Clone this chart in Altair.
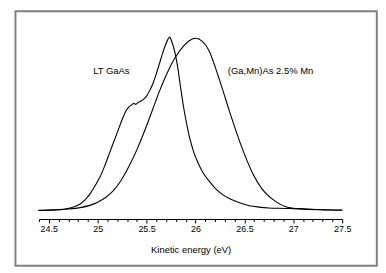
import altair as alt
import pandas as pd

# LT GaAs spectrum (kinetic energy eV, normalised intensity)
lt_energy = [24.40, 24.50, 24.60, 24.68, 24.75, 24.82, 24.87, 24.92, 24.97, 25.02,
             25.07, 25.12, 25.17, 25.21, 25.25, 25.29, 25.32, 25.35, 25.37, 25.39,
             25.41, 25.44, 25.47, 25.50, 25.53, 25.57, 25.60, 25.63, 25.66, 25.69,
             25.72, 25.735, 25.76, 25.79, 25.82, 25.85, 25.88, 25.91, 25.94, 25.98,
             26.03, 26.08, 26.14, 26.20, 26.27, 26.35, 26.45, 26.55, 26.65, 26.75,
             26.85, 26.95, 27.05, 27.15, 27.25, 27.35, 27.50]
lt_intensity = [0.000, 0.002, 0.005, 0.010, 0.020, 0.038, 0.062, 0.095, 0.140, 0.190,
                0.255, 0.330, 0.405, 0.465, 0.525, 0.575, 0.598, 0.610, 0.618, 0.612,
                0.622, 0.630, 0.642, 0.660, 0.690, 0.740, 0.790, 0.845, 0.900, 0.950,
                0.990, 1.000, 0.970, 0.910, 0.820, 0.700, 0.590, 0.500, 0.420, 0.340,
                0.270, 0.215, 0.170, 0.130, 0.095, 0.068, 0.045, 0.028, 0.020, 0.015,
                0.013, 0.012, 0.010, 0.007, 0.005, 0.003, 0.002]

# (Ga,Mn)As 2.5% Mn spectrum
mn_energy = [24.39, 24.55, 24.70, 24.82, 24.92, 25.00, 25.08, 25.16, 25.24, 25.32,
             25.40, 25.48, 25.56, 25.64, 25.72, 25.80, 25.88, 25.94, 26.00, 26.07,
             26.14, 26.20, 26.27, 26.36, 26.47, 26.58, 26.68, 26.80, 26.95, 27.10,
             27.25, 27.50]
mn_intensity = [0.002, 0.004, 0.009, 0.017, 0.030, 0.048, 0.075, 0.115, 0.175, 0.255,
                0.350, 0.460, 0.580, 0.700, 0.805, 0.890, 0.950, 0.980, 0.993, 0.975,
                0.920, 0.830, 0.710, 0.550, 0.370, 0.220, 0.125, 0.060, 0.018, 0.010,
                0.006, 0.003]

label_text = ["LT GaAs", "(Ga,Mn)As 2.5% Mn"]
label_energy = [25.14, 26.33]
label_intensity = [0.802, 0.802]
label_align = ["center", "left"]

tick_values = [round(24.4 + 0.1 * i, 1) for i in range(32)]

df = pd.concat([
    pd.DataFrame({"energy": lt_energy, "intensity": lt_intensity, "sample": "LT GaAs"}),
    pd.DataFrame({"energy": mn_energy, "intensity": mn_intensity, "sample": "(Ga,Mn)As 2.5% Mn"}),
])
labels = pd.DataFrame({"text": label_text, "energy": label_energy,
                       "intensity": label_intensity, "align": label_align})

FONT = "Liberation Sans"
major = "abs(datum.value*2 - round(datum.value*2)) < 0.01"

xscale = alt.Scale(domain=[24.4, 27.5], nice=False, zero=False)
yscale = alt.Scale(domain=[-0.0487, 1.0], nice=False, zero=False)

frame = alt.Chart(alt.Data(values=[{}])).mark_rect(
    fill="transparent", stroke="#808080", strokeWidth=2
).encode(
    x=alt.value(-23.7), x2=alt.value(339.8), y=alt.value(-26), y2=alt.value(230)
)

lines = alt.Chart(df).mark_line(color="black", strokeWidth=1.1, interpolate="monotone").encode(
    x=alt.X("energy:Q", scale=xscale,
            axis=alt.Axis(title="Kinetic energy (eV)", values=tick_values, tickCount=100,
                          labelExpr=f"{major} ? format(datum.value, '~g') : ''",
                          tickSize={"condition": {"test": major, "value": 4}, "value": 2.5},
                          labelOverlap=False,
                          grid=False, domainColor="black", tickColor="black",
                          domainWidth=1, tickWidth=1, labelFont=FONT, labelFontSize=9,
                          labelColor="black", labelPadding=2, labelFlush=False,
                          titleFont=FONT, titleFontSize=9.5, titleFontWeight="normal",
                          titleColor="black", titlePadding=11)),
    y=alt.Y("intensity:Q", scale=yscale, axis=None),
    detail="sample:N",
    order="energy:Q",
)

text_center = alt.Chart(labels[labels["align"] == "center"]).mark_text(
    font=FONT, fontSize=9.5, color="black", align="center", baseline="middle"
).encode(x=alt.X("energy:Q", scale=xscale), y=alt.Y("intensity:Q", scale=yscale), text="text:N")

text_left = alt.Chart(labels[labels["align"] == "left"]).mark_text(
    font=FONT, fontSize=9.5, color="black", align="left", baseline="middle"
).encode(x=alt.X("energy:Q", scale=xscale), y=alt.Y("intensity:Q", scale=yscale), text="text:N")

chart = alt.layer(frame, lines, text_center, text_left).properties(
    width=305, height=183,
    autosize=alt.AutoSizeParams(type="none"),
    padding={"left": 31.2, "top": 28.5, "right": 36, "bottom": 48},
    background="white",
).configure_view(strokeWidth=0)

chart.save("out.html", embed_options={"renderer": "svg", "actions": False})
